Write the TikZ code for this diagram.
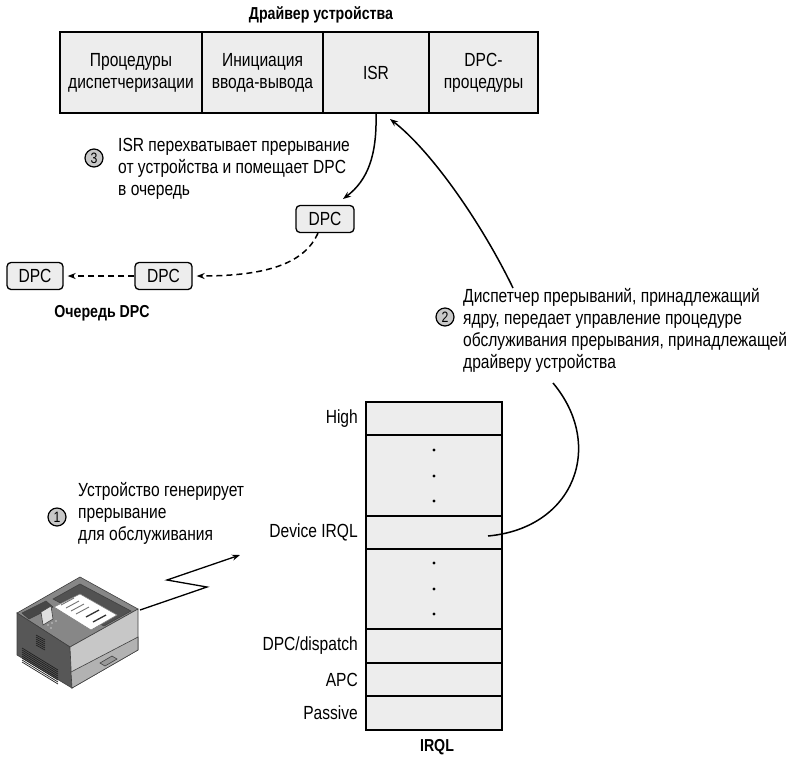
\documentclass[tikz,border=0pt]{standalone}
\usepackage{fontspec}
\setmainfont{Liberation Sans}[FakeStretch=0.82]
\usetikzlibrary{arrows.meta}
\definecolor{boxgray}{HTML}{EDEDED}
\definecolor{numgray}{HTML}{C8C8C8}
\newcommand{\txtfont}{\fontsize{19}{22}\selectfont}
\newcommand{\boldfont}{\fontsize{17.3}{20}\selectfont\bfseries}
\begin{document}
\begin{tikzpicture}[x=1pt,y=-1pt,
  cell/.style={draw, line width=1.6pt, fill=boxgray, inner sep=0pt,
    minimum height=81pt, align=center, font=\txtfont},
  level/.style={draw, line width=1.6pt, fill=boxgray, inner sep=0pt,
    minimum width=136pt},
  lvlname/.style={anchor=east, font=\txtfont, inner sep=0pt},
  dpcbox/.style={draw, line width=1.3pt, fill=boxgray, rounded corners=4pt,
    minimum height=27pt, inner sep=0pt, font=\txtfont},
  note/.style={anchor=west, align=left, font=\txtfont, inner sep=0pt},
  num/.style={circle, draw, line width=1.2pt, fill=numgray, minimum size=18pt,
    inner sep=0pt, font=\fontsize{15}{15}\selectfont},
  heading/.style={font=\boldfont, inner sep=0pt},
  conn/.style={line width=1.5pt, -{Stealth[length=8pt,width=6pt]}},
  plain/.style={line width=1.5pt},
  dashconn/.style={conn, dash pattern=on 6pt off 4pt},
  dotmark/.style={circle, fill=black, minimum size=3.2pt, inner sep=0pt}
]
\useasboundingbox (0,0) rectangle (789,756);

% --- driver routines ---
\node[heading] (drvtitle) at (321,15) {Драйвер устройства};
\node[cell, minimum width=142pt] (disp) at (131,72.5) {Процедуры\\диспетчеризации};
\node[cell, minimum width=121pt] (iostart) at (262.5,72.5) {Инициация\\ввода-вывода};
\node[cell, minimum width=106pt] (isr) at (376,72.5) {ISR};
\node[cell, minimum width=109pt] (dpcproc) at (483.5,72.5) {DPC-\\процедуры};

% --- DPC queue ---
\node[dpcbox, minimum width=58pt] (dpcnew) at (325,219) {DPC};
\node[dpcbox, minimum width=57pt] (dpcb) at (163.5,276) {DPC};
\node[dpcbox, minimum width=56pt] (dpca) at (35,276) {DPC};
\node[heading] (qtitle) at (102,313) {Очередь DPC};

% --- IRQL levels ---
\node[level, minimum height=33pt] (lhigh) at (434,418.5) {};
\node[level, minimum height=81pt] (ldots1) at (434,475.5) {};
\node[level, minimum height=33pt] (ldev) at (434,532.5) {};
\node[level, minimum height=80pt] (ldots2) at (434,589) {};
\node[level, minimum height=34pt] (ldpc) at (434,646) {};
\node[level, minimum height=33pt] (lapc) at (434,679.5) {};
\node[level, minimum height=34pt] (lpass) at (434,713) {};
\node[heading] (irqltitle) at (437,747) {IRQL};

\node[lvlname] (nhigh) at (358,418.5) {High};
\node[lvlname] (ndev) at (358,532.5) {Device IRQL};
\node[lvlname] (ndpc) at (358,646) {DPC/dispatch};
\node[lvlname] (napc) at (358,679.5) {APC};
\node[lvlname] (npass) at (358,713) {Passive};

\foreach \yy in {450,476,501,563,589,614}
  \node[dotmark] at (434,\yy) {};

% --- numbered notes ---
\node[num] (n1) at (57,517) {1};
\node[note] (t1) at (78,513) {Устройство генерирует\\прерывание\\для обслуживания};
\node[num] (n2) at (445,317) {2};
\node[note] (t2) at (463,330) {Диспетчер прерываний, принадлежащий\\ядру, передает управление процедуре\\обслуживания прерывания, принадлежащей\\драйверу устройства};
\node[num] (n3) at (94,158) {3};
\node[note] (t3) at (118,169) {ISR перехватывает прерывание\\от устройства и помещает DPC\\в очередь};

% --- connector end points ---
\coordinate (isrhit) at (390,119);
\coordinate (t2top) at (513,288);
\coordinate (t2bot) at (553,383);
\coordinate (devpt) at (488,536);
\coordinate (dpcin) at (343,199);
\coordinate (prnout) at (140,610);
\coordinate (zzend) at (240,555);

% --- connectors ---
\draw[conn] (isr.south) .. controls (377,155) and (368,180) .. (dpcin);
\draw[conn] (t2top) .. controls (480,220) and (430,150) .. (isrhit);
\draw[plain] (devpt) .. controls (575,528) and (605,445) .. (t2bot);
\draw[dashconn] ([xshift=-7pt]dpcnew.south) .. controls (305,262) and (270,276) .. ([xshift=4pt]dpcb.east);
\draw[dashconn] (dpcb.west) -- ([xshift=4pt]dpca.east);
\draw[conn, line width=1.3pt] (prnout) -- (207,587) -- (167,580) -- (zzend);

% --- printer ---
\begin{scope}[line width=0.6pt, draw=black!75]
  % body faces
  \filldraw[fill=black!47] (80,577) -- (138,609) -- (70,647) -- (17,613) -- cycle;
  \filldraw[fill=black!66] (17,613) -- (70,647) -- (72,688) -- (17,655) -- cycle;
  \filldraw[fill=black!22] (70,647) -- (138,609) -- (138,650) -- (72,688) -- cycle;
  % lower part of the front and paper tray
  \filldraw[fill=black!30] (71,672) -- (138,637) -- (138,650) -- (72,688) -- cycle;
  \filldraw[fill=black!40] (100,663) -- (112,656) -- (117,659) -- (105,666) -- cycle;
  % output tray recess
  \filldraw[fill=black!68] (80,584) -- (131,611) -- (104,626) -- (53,599) -- cycle;
  % printed sheet
  \filldraw[fill=white, draw=black!50] (54,607) -- (80,594) -- (117,615) -- (91,630) -- cycle;
  \foreach \k in {0,1,2,3}
    \draw[black!55, line width=0.9pt] (61+5*\k,605+3*\k) -- (74+5*\k,598+3*\k);
  \draw[black!80, line width=1.3pt] (86,617) -- (99,610);
  \draw[black!80, line width=1.3pt] (93,622) -- (106,615);
  % control panel
  \filldraw[fill=black!72] (22,613) -- (46,601) -- (53,607) -- (29,619) -- cycle;
  \filldraw[fill=black!12] (41,612) -- (51,606) -- (53,619) -- (43,625) -- cycle;
  \foreach \bx/\by in {48/625,52/623,56/621,51/628}
    \fill[black!30] (\bx,\by) circle (1.1pt);
  % vents on the side
  \foreach \k in {0,...,5}
    \draw[black!88, line width=0.7pt] (36,635+2*\k) -- (45,640+2*\k);
  \foreach \k in {0,...,7}
    \draw[black!88, line width=0.7pt] (22,648+2*\k) -- (58,670+2*\k);
\end{scope}
\end{tikzpicture}
\end{document}
